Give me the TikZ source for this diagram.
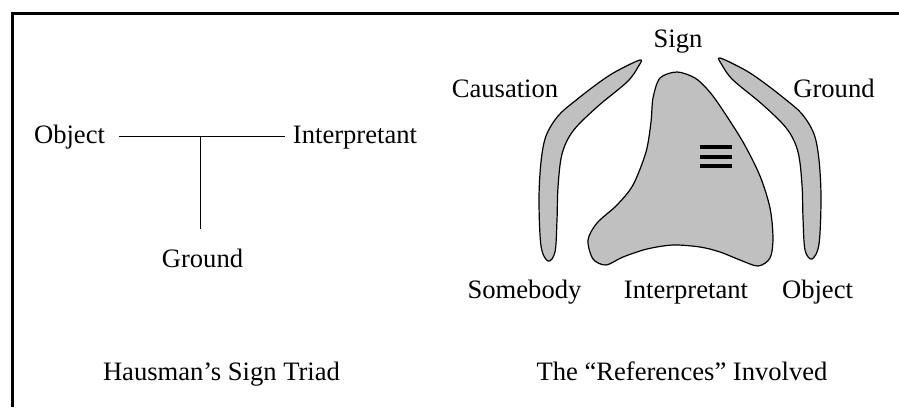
\documentclass[tikz,border=0pt]{standalone}
\usepackage{fontspec}
\setmainfont{Liberation Serif}
\usepackage{xcolor}
\usepackage{tikz}
\usetikzlibrary{positioning}

\definecolor{blobgray}{HTML}{C0C0C0}

\begin{document}
\begin{tikzpicture}[x=1pt,y=-1pt,
    lbl/.style={font=\fontsize{26.6}{30}\selectfont,anchor=base,inner sep=0pt},
    blob/.style={draw=black,fill=blobgray,line width=1.2pt},
    link/.style={line width=1pt}]
    \useasboundingbox (0,0) rectangle (899,407);
    \draw[line width=3pt] (12.5,407) -- (12.5,13.5) -- (899,13.5);

    % left: the triad
    \node[lbl] (obj) at (69.5,143) {Object};
    \node[lbl] (interp) at (355,143) {Interpretant};
    \node[lbl] (ground) at (202.5,267) {Ground};
    \coordinate (tj) at (200,136);
    \draw[link,shorten <=14pt,shorten >=8pt] (obj.east |- tj) -- (interp.west |- tj);
    \draw[link,shorten >=19pt] (tj) -- (tj |- ground.north);
    \node[lbl] (triad) at (221.5,380) {Hausman’s Sign Triad};

    % right: the references
    \draw[blob] plot[smooth cycle,tension=0.55] coordinates {
        (640,60) (615,72) (597,84) (575,101) (558,116) (546,136) (541,162)
        (539,200) (541,246) (548,261) (555,252) (557,220) (558,187)
        (562,154) (573,131) (597,107) (627,82) (638,67)};
    \begin{scope}[xshift=1360pt,xscale=-1]
    \draw[blob] plot[smooth cycle,tension=0.55] coordinates {
        (640,58) (615,70) (597,82) (575,99) (558,114) (546,134) (541,160)
        (539,198) (541,244) (548,259) (555,250) (557,218) (558,185)
        (562,152) (573,129) (597,105) (627,80) (638,65)};
    \end{scope}
    \draw[blob] plot[smooth cycle,tension=0.5] coordinates {
        (660,78) (677,72) (695,78) (708,90) (720,106) (743,142) (760,176)
        (770,208) (773,238) (770,258) (758,266) (740,260) (720,252)
        (700,247) (673,245) (647,249) (623,257) (606,265) (593,259)
        (588,240) (597,223) (617,205) (633,185) (646,152) (651,122) (653,98)};
    \foreach \y in {147,157,166}
        \draw[line width=4pt] (700,\y) -- (732,\y);

    \node[lbl] (sign) at (678,47) {Sign};
    \node[lbl] (causation) at (505,97) {Causation};
    \node[lbl] (groundr) at (834,97) {Ground};
    \node[lbl] (somebody) at (524.5,298) {Somebody};
    \node[lbl] (interpr) at (686,298) {Interpretant};
    \node[lbl] (objr) at (817.5,298) {Object};
    \node[lbl] (refs) at (682,380) {The “References” Involved};
\end{tikzpicture}
\end{document}
